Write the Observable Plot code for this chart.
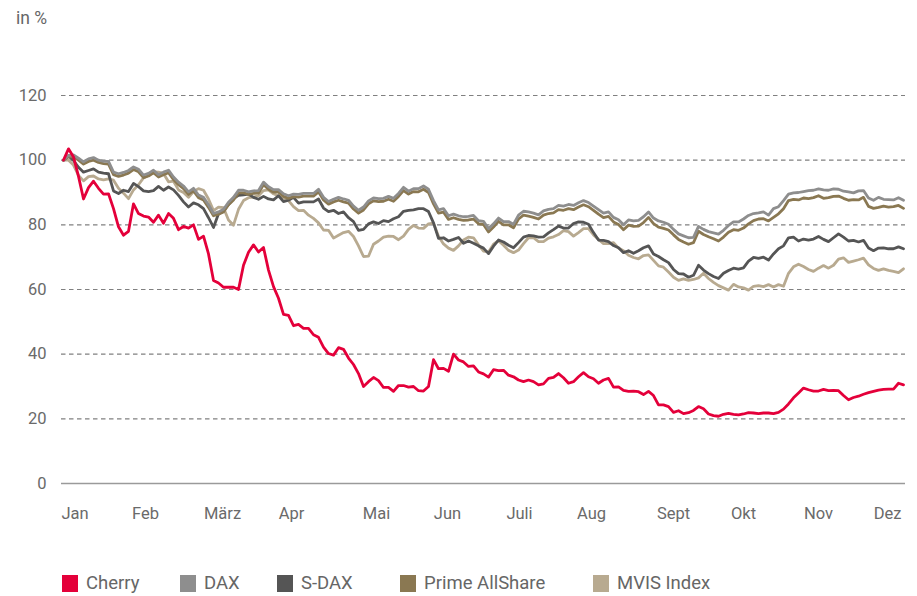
<!DOCTYPE html>
<html><head><meta charset="utf-8">
<script src="https://cdn.jsdelivr.net/npm/d3@7"></script>
<script src="https://cdn.jsdelivr.net/npm/@observablehq/plot@0.6"></script>
<style>
body{margin:0;background:#fff;font-family:Roboto,sans-serif;color:#666;}
#wrap{position:relative;width:917px;height:596px;overflow:hidden;}
#unit{position:absolute;left:16px;top:9px;font-size:17.5px;line-height:18px;color:#666;}
#chart{position:absolute;left:0;top:0;}
#legend{position:absolute;left:0;top:574px;width:917px;height:20px;font-size:18.5px;color:#666;}
.item{position:absolute;top:0;display:flex;align-items:center;height:18px;}
.sw{width:16px;height:17px;margin-right:8px;}
</style></head>
<body><div id="wrap"><div id="unit">in %</div><div id="chart"></div><div id="legend"></div></div>
<script>
const seriesNames = ["Cherry","DAX","S-DAX","Prime AllShare","MVIS Index"];
const seriesColors = ["#e4003a","#8e8e8e","#555555","#8a7852","#b8aa90"];
const months = ["Jan","Feb","März","Apr","Mai","Jun","Juli","Aug","Sept","Okt","Nov","Dez"];
const monthPos = [2.3,16.4,31.8,45.6,62.6,76.8,91.2,105.6,122,136,151,164.8];
const yTicks = [0,20,40,60,80,100,120];

const cherry = [100,103.5,101,95,88,91.5,93.5,91.3,89.5,89.6,85,79.4,76.8,78,86.5,83.5,82.7,82.4,80.8,83,80.5,83.5,82,78.5,79.5,79,80,75.5,76.5,71,62.8,62,60.7,60.7,60.7,60,67.5,71.5,73.8,71.6,73,66,60.9,57.3,52.3,52,48.8,49.2,48,48,46,45.2,42.2,40.2,39.7,42,41.5,38.8,36.8,34,30,31.5,32.8,31.8,29.7,29.7,28.5,30.3,30.3,29.8,30,28.7,28.6,30,38.3,35.5,35.6,34.7,40,38.2,37.6,36.2,36.4,34.5,33.9,32.9,35.2,34.9,35,33.5,33,32,31.5,32,31.5,30.5,30.8,32.5,32.8,34,32.7,31,31.5,33,34.3,33,32.4,31,32,32.5,29.8,29.9,28.8,28.5,28.6,28.4,27.5,28.5,27.2,24.3,24.3,23.8,22,22.5,21.6,21.9,22.6,23.8,23.1,21.5,21,20.8,21.4,21.7,21.4,21.2,21.5,21.9,21.8,21.6,21.8,21.8,21.6,22,23,24.6,26.5,28,29.5,29,28.6,28.6,29.1,28.7,28.8,28.7,27.2,25.9,26.6,27,27.6,28.1,28.5,28.9,29.1,29.2,29.2,31,30.5];
const dax = [100,101.5,101.6,100.6,99.5,100.4,100.8,100,99.6,99.6,96.3,95.8,96.2,96.8,97.9,97.2,95.4,95.9,96.9,95.5,96.3,96.9,94.8,93.2,92,90.2,91.3,89.2,88.5,86.2,83.5,84,84.8,87,88.5,90.7,90.7,90.2,90.5,90.6,93.2,91.8,90.9,90.9,89.6,89,89.5,89.4,89.7,89.7,89.7,91,88.5,87.2,87.9,88.5,88,87.6,85.8,84.5,85.5,87.4,88.3,88.1,88.2,88.8,88.2,89.7,91.6,90.4,91.2,91.2,92,91,87.5,84.6,85,82.8,83.3,82.8,82.5,82.6,82.9,81.3,81.1,78.8,80.3,82.1,81,81,80.2,83,84.2,84,83.6,83.1,84.3,84.8,85,86,85.8,86.3,86,86.8,87.5,86.9,85.8,84.7,83.6,84,82.3,81.6,80,81.5,81.2,81.4,82.5,84,82.1,81.2,80.8,80.2,78.6,77.2,76.6,76,76.1,79.5,78.6,77.9,77.5,77.1,78.3,79.8,80.9,80.9,81.8,82.9,83.5,83.7,84,83,85,85.6,87.5,89.5,89.9,90,90.3,90.6,90.7,91.1,90.8,90.7,91.1,91,90.4,90.2,89.9,90.5,90.6,88.3,87.6,88.5,87.9,87.8,87.7,88.4,87.6];
const sdax = [100,101.3,99.9,97.8,96.3,96.8,97.3,96.3,96,95.8,90.5,89.7,90.7,90.3,92.8,91.8,90.5,90.3,90.6,91.9,90.7,91.7,90.8,89.1,87.1,85.5,86.8,86.2,85,82.2,79.2,83.4,84.3,86.3,88.1,89.1,89.3,89.5,88.5,87.9,88.8,88,87.7,89,87.2,87.6,88.5,86.7,87.1,87.1,87.1,88,85.2,84.1,84.5,83.5,84,82.2,81,78.3,78.6,80.3,80.9,80.4,81.3,81,81.9,82.5,84.2,84.5,84.6,85,85,84.1,80.6,75.8,76,75,75.5,76.1,74.3,75,74.3,73.5,72.8,71.1,73.4,75.3,74.7,73.7,72.9,74.5,76.2,76.7,76.6,76.2,76.3,77.5,78.5,79.6,79,79,80.4,80.9,80.8,80.2,77.6,75.3,75.2,74.8,73.6,72.9,71.4,72,71.2,72,72.9,73.5,71,70.2,69.2,68.3,66.2,64.9,64.8,63.8,64.4,67.5,66,64.9,64,63.4,65,65.9,66.6,66.3,66.7,68.8,69.9,69.6,70,69.1,71,72.6,73.5,76,76.2,75,75.6,75.3,75.6,76.4,75.5,74.8,76,77.2,76.2,75,75.2,74.7,75.2,72.8,72,72.8,72.9,72.6,72.6,73.2,72.6];
const prime = [100,101,101,100,98.8,99.6,100,99.3,98.9,98.8,95.5,95,95.4,96,97.1,96.4,94.6,95.1,96.1,94.8,95.5,96.1,94,92.4,91.2,89.4,90.5,88.4,87.7,85.4,82.8,83.3,84,86.2,87.7,89.9,89.9,89.4,89.7,89.8,92.4,91,90.1,90.1,88.8,88.2,88.7,88.6,88.9,88.9,88.9,90.2,87.7,86.4,87.1,87.6,87.1,86.7,84.9,83.6,84.6,86.5,87.4,87.2,87.3,87.9,87.3,88.8,90.6,89.5,90.3,90.2,91,90,86.5,83.6,83.9,81.7,82.2,81.7,81.4,81.5,81.8,80.3,80.1,77.8,79.3,81.1,80,80,79.1,81.8,83,82.7,82.3,81.8,83,83.5,83.7,84.7,84.5,85,84.7,85.5,86.2,85.6,84.5,83.3,82.2,82.6,80.9,80.1,78.5,79.9,79.5,79.6,80.7,82.3,80.4,79.3,78.9,78.4,76.9,75.5,74.7,74,74.5,78,77,76.3,75.7,75,76.2,77.7,78.5,78.3,79,80.3,81.3,81.8,81.9,81.2,82.3,83.4,85,87.5,87.9,87.7,88.3,88.1,88.4,89,88.2,88.4,88.8,88.9,88.2,87.6,87.8,87.7,88.5,85.7,85.1,85.4,85.8,85.5,85.6,86,85.1];
const mvis = [100,100,98.5,95.3,93.6,94.9,95.1,94.2,93.9,94.2,93.8,91.3,89.8,88.1,90.8,92.4,94.5,95.3,96.4,96.3,95.9,93.3,93.5,90.8,90,88.5,90.3,91.2,90.7,88,84.4,85.5,85.3,81.5,79.9,84.8,87.5,88.4,88.6,89,90.6,90.8,89.6,88.9,88.3,87.5,85.6,84.4,84.5,83,82,80.6,78.4,78.3,75.9,76.8,77.6,78,76.4,73.5,70.2,70.3,74,75,76.2,76.5,76.4,75.4,76.5,78.6,79.8,79,78.9,80.3,80.5,76.5,74.1,72.8,72.1,73.5,75.3,76.2,76,73.8,71.9,71.6,74,75.1,73.7,72.1,71.4,72.2,74.2,76,76,74.8,74.8,75.9,76.3,77,78.2,77.9,76.5,77.6,78.8,78.8,76.9,75.5,74.2,74.2,74.5,72.8,72,70.6,69.9,69.5,70.5,70.7,69,67.3,66.9,65.4,63.8,62.8,63.3,62.8,63.1,63.6,65,63.4,62.2,61.2,60.5,59.8,61.6,60.8,60.5,59.8,61,61.2,60.9,61.5,60.8,61.5,61,65,67,67.8,67.1,66.2,65.6,66.6,67.4,66.6,67.5,69.4,69.8,68.4,68.8,69.2,69.7,67.6,66.5,65.9,66.4,65.9,65.6,65.2,66.4];

const valuesBySeries = [cherry, dax, sdax, prime, mvis];
const rows = seriesNames.flatMap((name, s) => valuesBySeries[s].map((v, t) => ({series: name, t, v})));
const drawOrder = ["MVIS Index","S-DAX","Prime AllShare","DAX","Cherry"];

const chart = Plot.plot({
  width: 917, height: 540,
  marginLeft: 61, marginRight: 12, marginTop: 95, marginBottom: 57,
  x: {domain: [-0.4, 168.4]},
  y: {domain: [0, 120]},
  color: {domain: seriesNames, range: seriesColors},
  style: {fontFamily: "Roboto, sans-serif", fontSize: "16.5px", color: "#6a6a6a", background: "transparent"},
  marks: [
    Plot.ruleY(yTicks.filter(d => d > 0), {stroke: "#808080", strokeDasharray: "4.5,3.5", strokeWidth: 1.2}),
    Plot.ruleY([0], {stroke: "#9a9a9a", strokeWidth: 1.5}),
    Plot.axisY({ticks: yTicks, tickSize: 0, tickPadding: 15, label: null}),
    Plot.axisX({ticks: monthPos, tickFormat: d => months[monthPos.indexOf(d)], tickSize: 0, tickPadding: 24, label: null}),
    ...drawOrder.map(name => Plot.line(rows.filter(r => r.series === name), {
      x: "t", y: "v", stroke: "series", strokeWidth: 2.8, strokeLinejoin: "round"
    }))
  ]
});
document.getElementById("chart").append(chart);

const legendLeft = [62, 180, 277, 400, 593];
const legend = document.getElementById("legend");
seriesNames.forEach((name, i) => {
  const it = document.createElement("div"); it.className = "item"; it.style.left = legendLeft[i] + "px";
  const sw = document.createElement("div"); sw.className = "sw"; sw.style.background = seriesColors[i];
  const tx = document.createElement("span"); tx.textContent = name;
  it.append(sw, tx); legend.append(it);
});
</script></body></html>
